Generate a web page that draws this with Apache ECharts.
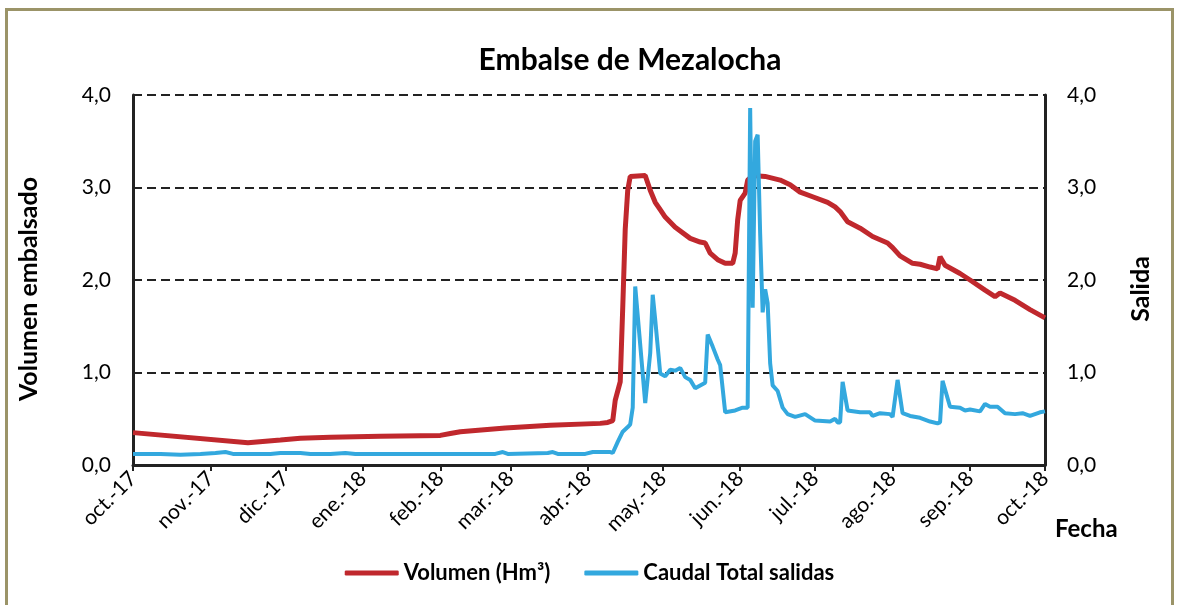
<!DOCTYPE html>
<html>
<head>
<meta charset="utf-8">
<script src="https://cdn.jsdelivr.net/npm/echarts@6/dist/echarts.min.js"></script>
<style>
  html, body { margin: 0; padding: 0; background: #fff; }
  #frame { position: absolute; left: 5px; top: 8px; width: 1169px; height: 600px; border: 3px solid #9b9468; box-sizing: border-box; border-bottom: none; }
  #chart { position: absolute; left: 0; top: 0; width: 1179px; height: 605px; }
</style>
</head>
<body>
<div id="frame"></div>
<div id="chart"></div>
<script>
const volDates = ['2017-10-01','2017-11-16','2017-11-29','2017-12-07','2017-12-19','2018-01-08','2018-02-01','2018-02-05','2018-02-09','2018-02-27','2018-03-17','2018-04-06','2018-04-09','2018-04-11','2018-04-12','2018-04-13','2018-04-14','2018-04-15','2018-04-16','2018-04-17','2018-04-18','2018-04-24','2018-04-26','2018-04-28','2018-04-30','2018-05-02','2018-05-06','2018-05-12','2018-05-16','2018-05-18','2018-05-20','2018-05-23','2018-05-26','2018-05-29','2018-05-30','2018-05-31','2018-06-01','2018-06-03','2018-06-04','2018-06-06','2018-06-11','2018-06-17','2018-06-21','2018-06-25','2018-06-30','2018-07-06','2018-07-09','2018-07-11','2018-07-14','2018-07-19','2018-07-24','2018-07-30','2018-08-01','2018-08-04','2018-08-09','2018-08-12','2018-08-16','2018-08-19','2018-08-20','2018-08-22','2018-08-28','2018-09-01','2018-09-07','2018-09-11','2018-09-13','2018-09-19','2018-09-25','2018-10-01'];
const volValues = [0.35,0.24,0.27,0.29,0.30,0.31,0.32,0.34,0.36,0.40,0.43,0.45,0.46,0.48,0.70,0.80,0.90,1.70,2.55,2.97,3.12,3.13,2.97,2.84,2.76,2.68,2.57,2.45,2.41,2.40,2.29,2.22,2.18,2.18,2.29,2.65,2.86,2.94,3.08,3.13,3.12,3.08,3.03,2.95,2.90,2.84,2.79,2.74,2.63,2.56,2.47,2.40,2.35,2.26,2.18,2.17,2.14,2.12,2.25,2.16,2.07,2.00,1.89,1.82,1.86,1.78,1.68,1.59];

const flowDates = ['2017-10-01','2017-10-12','2017-10-20','2017-10-28','2017-11-03','2017-11-07','2017-11-10','2017-11-25','2017-11-29','2017-12-07','2017-12-11','2017-12-19','2017-12-25','2017-12-29','2018-02-23','2018-02-26','2018-02-28','2018-03-16','2018-03-18','2018-03-20','2018-03-31','2018-04-03','2018-04-10','2018-04-11','2018-04-13','2018-04-15','2018-04-17','2018-04-18','2018-04-19','2018-04-20','2018-04-24','2018-04-26','2018-04-27','2018-04-28','2018-04-30','2018-05-02','2018-05-04','2018-05-06','2018-05-08','2018-05-10','2018-05-12','2018-05-14','2018-05-18','2018-05-19','2018-05-21','2018-05-23','2018-05-24','2018-05-26','2018-05-30','2018-06-02','2018-06-04','2018-06-05','2018-06-06','2018-06-07','2018-06-08','2018-06-09','2018-06-10','2018-06-11','2018-06-12','2018-06-13','2018-06-14','2018-06-16','2018-06-18','2018-06-20','2018-06-23','2018-06-27','2018-07-01','2018-07-07','2018-07-09','2018-07-10','2018-07-11','2018-07-12','2018-07-14','2018-07-19','2018-07-23','2018-07-24','2018-07-27','2018-07-31','2018-08-01','2018-08-03','2018-08-05','2018-08-08','2018-08-12','2018-08-16','2018-08-19','2018-08-20','2018-08-21','2018-08-24','2018-08-28','2018-08-30','2018-09-01','2018-09-05','2018-09-07','2018-09-09','2018-09-12','2018-09-15','2018-09-19','2018-09-22','2018-09-25','2018-09-29','2018-10-01'];
const flowValues = [0.12,0.12,0.11,0.12,0.13,0.14,0.12,0.12,0.13,0.13,0.12,0.12,0.13,0.12,0.12,0.14,0.12,0.13,0.14,0.12,0.12,0.14,0.14,0.13,0.25,0.36,0.41,0.44,0.62,1.93,0.67,1.21,1.84,1.57,0.99,0.96,1.03,1.02,1.05,0.95,0.92,0.83,0.89,1.41,1.28,1.14,1.08,0.57,0.59,0.62,0.62,3.86,1.70,3.50,3.57,2.50,1.65,1.90,1.75,1.10,0.86,0.80,0.62,0.55,0.52,0.55,0.48,0.47,0.50,0.46,0.46,0.90,0.59,0.57,0.57,0.53,0.56,0.55,0.52,0.92,0.56,0.53,0.51,0.47,0.45,0.46,0.91,0.63,0.62,0.59,0.60,0.58,0.66,0.63,0.63,0.56,0.55,0.56,0.53,0.57,0.58];

const monthNames = ['ene.','feb.','mar.','abr.','may.','jun.','jul.','ago.','sep.','oct.','nov.','dic.'];
const yTicks = [0, 1, 2, 3, 4];

const FONT = 'Lato';
const chart = echarts.init(document.getElementById('chart'), null, { renderer: 'canvas' });

function fmtY(v) { return v.toFixed(1).replace('.', ','); }

const yAxisCommon = {
  type: 'value', min: yTicks[0], max: yTicks[yTicks.length - 1], interval: 1,
  nameLocation: 'middle',
  nameTextStyle: { fontFamily: FONT, fontSize: 25, fontWeight: 'bold', color: '#000', padding: [0, 18, 0, 0] },
  axisLabel: { fontFamily: FONT, fontSize: 21, color: '#000', formatter: fmtY, margin: 22 },
  axisTick: { show: false }
};

chart.setOption({
  animation: false,
  backgroundColor: 'transparent',
  title: {
    text: 'Embalse de Mezalocha', left: 625, top: 40, textAlign: 'center',
    textStyle: { fontFamily: FONT, fontSize: 30, fontWeight: 'bold', color: '#000' }
  },
  grid: { left: 133, right: 134, top: 95, bottom: 140 },
  legend: {
    bottom: 16, left: 'center', itemGap: 34, itemWidth: 54, itemHeight: 5,
    icon: 'roundRect',
    textStyle: { fontFamily: FONT, fontSize: 22, fontWeight: 'bold', color: '#000' },
    data: ['Volumen (Hm³)', 'Caudal Total salidas']
  },
  xAxis: {
    type: 'time',
    min: '2017-10-01', max: '2018-10-01',
    minInterval: 28 * 86400000, maxInterval: 31 * 86400000,
    name: 'Fecha', nameLocation: 'end', nameGap: 10,
    nameTextStyle: { fontFamily: FONT, fontSize: 24, fontWeight: 'bold', color: '#000', verticalAlign: 'top', padding: [52, 0, 0, 0] },
    axisLine: { lineStyle: { color: '#222', width: 3 } },
    axisTick: { show: true, length: 6, lineStyle: { color: '#222', width: 2 } },
    splitLine: { show: false },
    axisLabel: {
      rotate: 45, fontFamily: FONT, fontSize: 21, color: '#000', margin: 10,
      hideOverlap: false, showMinLabel: true, showMaxLabel: true,
      formatter: function (v) {
        const d = new Date(v);
        return monthNames[d.getMonth()] + '-' + String(d.getFullYear()).slice(2);
      }
    }
  },
  yAxis: [
    Object.assign({}, yAxisCommon, {
      name: 'Volumen embalsado', nameGap: 92, position: 'left',
      axisLine: { show: true, lineStyle: { color: '#222', width: 3 } },
      splitLine: { show: true, lineStyle: { color: '#222', width: 2, type: [9, 5] } }
    }),
    Object.assign({}, yAxisCommon, {
      name: 'Salida', nameGap: 83, position: 'right',
      axisLine: { show: true, lineStyle: { color: '#222', width: 3 } },
      splitLine: { show: false }
    })
  ],
  series: [
    {
      name: 'Volumen (Hm³)', type: 'line', yAxisIndex: 0, symbol: 'none',
      lineStyle: { color: '#c0282d', width: 5 }, itemStyle: { color: '#c0282d' },
      data: volDates.map((d, i) => [d, volValues[i]])
    },
    {
      name: 'Caudal Total salidas', type: 'line', yAxisIndex: 1, symbol: 'none',
      lineStyle: { color: '#33a8de', width: 4 }, itemStyle: { color: '#33a8de' },
      data: flowDates.map((d, i) => [d, flowValues[i]])
    }
  ]
});
</script>
</body>
</html>
